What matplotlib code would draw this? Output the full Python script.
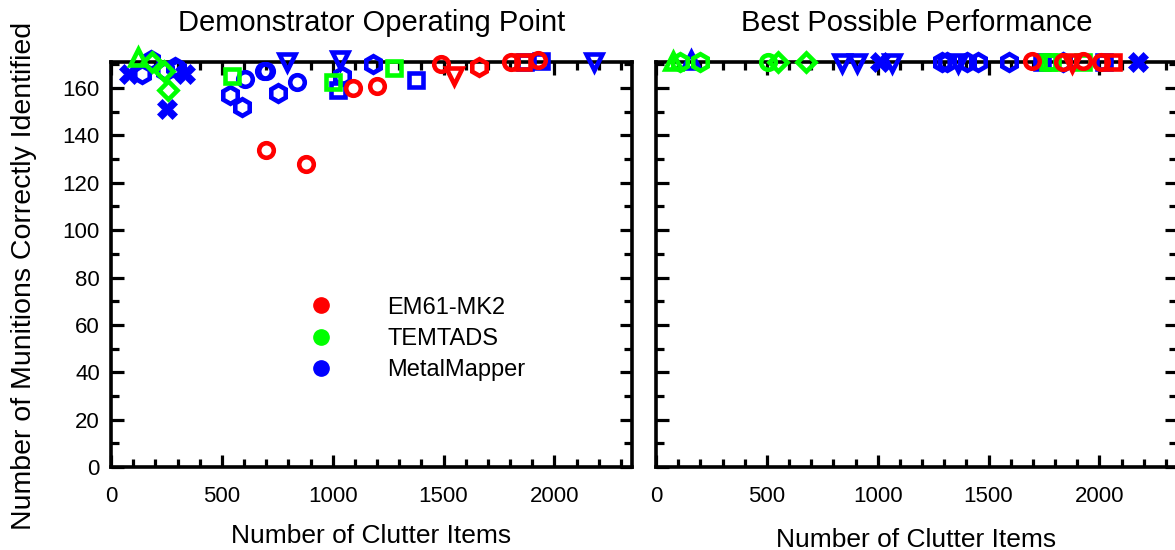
import matplotlib
matplotlib.use('Agg')
import matplotlib.pyplot as plt
from matplotlib.lines import Line2D
from matplotlib.ticker import MultipleLocator

plt.rcParams['font.family'] = ['Liberation Sans', 'DejaVu Sans']

# left panel: demonstrator operating point
em61_x = [700, 880, 1090, 1200, 1490, 1545, 1660, 1804, 1857, 1924]
em61_y = [134, 128, 160, 161, 170, 165, 169, 171, 171, 172]
em61_m = ['o', 'o', 'o', 'o', 'o', 'v', 'h', 'o', 's', 'o']

tem_x = [122, 185, 240, 258, 545, 1000, 1275]
tem_y = [173, 171, 167, 159, 165, 162.5, 168.5]
tem_m = ['^', 'D', 'D', 'D', 's', 's', 's']

mm_x = [81, 140, 180, 244, 253, 289, 298, 335, 538, 592, 606, 690, 700, 755,
        795, 840, 1026, 1040, 1035, 1184, 1374, 1867, 1939, 2179]
mm_y = [166, 166, 172, 167, 151, 169, 168, 166, 157, 152, 164, 167, 167, 158,
        171, 162.5, 159, 165, 172, 170, 163.5, 171, 171.5, 171]
mm_m = ['X', 'h', 'h', 'h', 'X', 'h', 'h', 'X', 'h', 'h', 'o', 'o', 'o', 'h',
        'v', 'o', 's', 'h', 'v', 'h', 's', 's', 's', 'v']

# right panel: best possible performance
em61_best_x = [1696, 1836, 1877, 1928, 2005, 2063]
em61_best_y = [171.5, 171, 170.5, 171.5, 171, 171]
em61_best_m = ['o', 'o', 'v', 'o', 'o', 's']

tem_best_x = [77, 108, 199, 505, 550, 675, 1770, 1788, 1928]
tem_best_y = [171.5, 171, 171, 171, 171, 171, 171, 171, 171]
tem_best_m = ['^', 'h', 'h', 'o', 'D', 'D', 's', 's', 's']

mm_best_x = [157, 838, 906, 1011, 1064, 1290, 1312, 1364, 1402, 1454, 1591,
             1741, 1836, 2022, 2176]
mm_best_y = [172, 170.5, 170.5, 171, 170.5, 171, 171, 170.5, 171, 171, 171,
             171, 171, 171, 171]
mm_best_m = ['^', 'v', 'v', 'X', 'v', 'h', 'h', 'v', 'h', 'h', 'h',
             's', 'h', 's', 'X']

labels = ['EM61-MK2', 'TEMTADS', 'MetalMapper']
colors = ['#ff0000', '#00ff00', '#0000ff']

# marker sizes so that the shapes look about the same size
sizes = {'X': 15, 'h': 12, 'o': 10.5, 's': 10.5, 'D': 9.5, '^': 11, 'v': 11}


def draw(ax, xs, ys, ms, c):
    for x, y, m in zip(xs, ys, ms):
        filled = m == 'X'
        ax.plot([x], [y], marker=m, ls='none', ms=sizes[m],
                mew=3.3 if not filled else 0.5, mec=c,
                mfc=c if filled else 'none', clip_on=False, zorder=5)


def style(ax, ylabels=True):
    ax.set_xlim(0, 2350)
    ax.set_ylim(0, 171)
    ax.xaxis.set_major_locator(MultipleLocator(500))
    ax.xaxis.set_minor_locator(MultipleLocator(100))
    ax.yaxis.set_major_locator(MultipleLocator(20))
    ax.yaxis.set_minor_locator(MultipleLocator(10))
    ax.tick_params(which='both', direction='in', top=True, right=True,
                   width=2.3, labelsize=16)
    ax.tick_params(axis='x', pad=14)
    ax.tick_params(axis='y', pad=8)
    ax.tick_params(which='major', length=9)
    ax.tick_params(which='minor', length=6)
    if not ylabels:
        ax.tick_params(labelleft=False)
    for s in ax.spines.values():
        s.set_linewidth(2.6)


fig = plt.figure(figsize=(11.75, 5.5), dpi=100)
ax1 = fig.add_axes([111 / 1175, 83 / 550, 521 / 1175, 405 / 550])
ax2 = fig.add_axes([656 / 1175, 83 / 550, 521 / 1175, 405 / 550])

draw(ax1, mm_x, mm_y, mm_m, colors[2])
draw(ax1, em61_x, em61_y, em61_m, colors[0])
draw(ax1, tem_x, tem_y, tem_m, colors[1])

draw(ax2, mm_best_x, mm_best_y, mm_best_m, colors[2])
draw(ax2, tem_best_x, tem_best_y, tem_best_m, colors[1])
draw(ax2, em61_best_x, em61_best_y, em61_best_m, colors[0])

style(ax1)
style(ax2, ylabels=False)

ax1.set_title('Demonstrator Operating Point', fontsize=21, pad=22)
ax2.set_title('Best Possible Performance', fontsize=21, pad=22)
ax1.set_xlabel('Number of Clutter Items', fontsize=19, labelpad=12)
ax2.set_xlabel('Number of Clutter Items', fontsize=19, labelpad=15)
ax1.set_ylabel('Number of Munitions Correctly Identified', fontsize=20.5)
ax1.yaxis.set_label_coords(-0.142, 0.472)

handles = [Line2D([], [], marker='o', ls='none', ms=11, color=c, mec=c)
           for c in colors]
ax1.legend(handles, labels, loc='upper left', bbox_to_anchor=(0.335, 0.45),
           frameon=False, fontsize=17, handletextpad=1.8, labelspacing=0.4,
           borderpad=0)

fig.savefig('out.png', dpi=100)
